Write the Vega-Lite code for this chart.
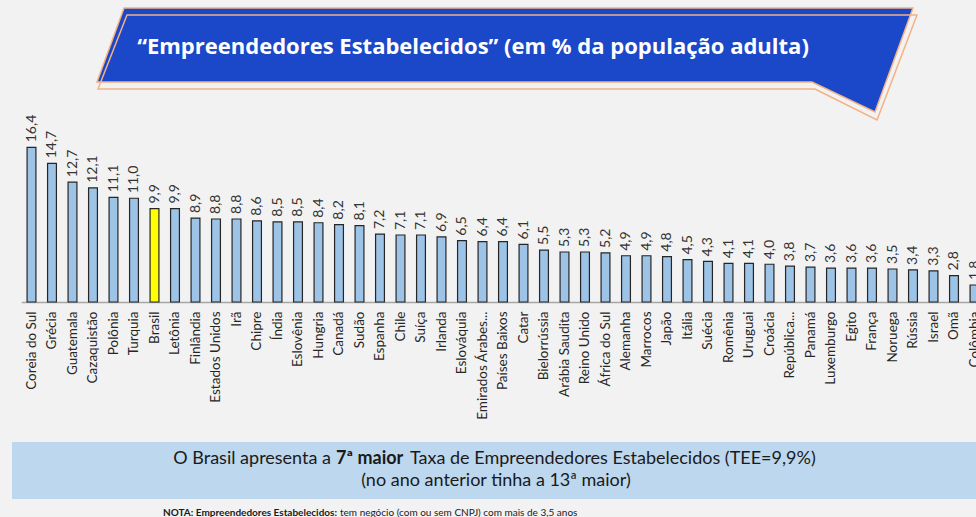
{
  "$schema": "https://vega.github.io/schema/vega-lite/v6.json",
  "background": "#f2f2f2",
  "padding": {"left": 12, "top": 5, "right": 0, "bottom": 0},
  "config": {
    "locale": {"number": {"decimal": ",", "thousands": ".", "grouping": [3], "currency": ["R$", ""]}},
    "view": {"stroke": null},
    "font": "Lato"
  },
  "spacing": 140,
  "center": true,
  "bounds": "flush",
  "vconcat": [
    {
      "width": {"step": 20.5},
      "height": 200,
      "data": {
        "values": [
          {"pais": "Coreia do Sul", "valor": 16.4},
          {"pais": "Grécia", "valor": 14.7},
          {"pais": "Guatemala", "valor": 12.7},
          {"pais": "Cazaquistão", "valor": 12.1},
          {"pais": "Polônia", "valor": 11.1},
          {"pais": "Turquia", "valor": 11.0},
          {"pais": "Brasil", "valor": 9.9},
          {"pais": "Letônia", "valor": 9.9},
          {"pais": "Finlândia", "valor": 8.9},
          {"pais": "Estados Unidos", "valor": 8.8},
          {"pais": "Irã", "valor": 8.8},
          {"pais": "Chipre", "valor": 8.6},
          {"pais": "Índia", "valor": 8.5},
          {"pais": "Eslovênia", "valor": 8.5},
          {"pais": "Hungria", "valor": 8.4},
          {"pais": "Canadá", "valor": 8.2},
          {"pais": "Sudão", "valor": 8.1},
          {"pais": "Espanha", "valor": 7.2},
          {"pais": "Chile", "valor": 7.1},
          {"pais": "Suíça", "valor": 7.1},
          {"pais": "Irlanda", "valor": 6.9},
          {"pais": "Eslováquia", "valor": 6.5},
          {"pais": "Emirados Árabes...", "valor": 6.4},
          {"pais": "Países Baixos", "valor": 6.4},
          {"pais": "Catar", "valor": 6.1},
          {"pais": "Bielorrússia", "valor": 5.5},
          {"pais": "Arábia Saudita", "valor": 5.3},
          {"pais": "Reino Unido", "valor": 5.3},
          {"pais": "África do Sul", "valor": 5.2},
          {"pais": "Alemanha", "valor": 4.9},
          {"pais": "Marrocos", "valor": 4.9},
          {"pais": "Japão", "valor": 4.8},
          {"pais": "Itália", "valor": 4.5},
          {"pais": "Suécia", "valor": 4.3},
          {"pais": "Romênia", "valor": 4.1},
          {"pais": "Uruguai", "valor": 4.1},
          {"pais": "Croácia", "valor": 4.0},
          {"pais": "República...", "valor": 3.8},
          {"pais": "Panamá", "valor": 3.7},
          {"pais": "Luxemburgo", "valor": 3.6},
          {"pais": "Egito", "valor": 3.6},
          {"pais": "França", "valor": 3.6},
          {"pais": "Noruega", "valor": 3.5},
          {"pais": "Rússia", "valor": 3.4},
          {"pais": "Israel", "valor": 3.3},
          {"pais": "Omã", "valor": 2.8},
          {"pais": "Colômbia", "valor": 1.8}
        ]
      },
      "encoding": {
        "x": {
          "field": "pais", "type": "nominal", "sort": null,
          "axis": {
            "title": null, "labelAngle": -90, "labelFontSize": 13.5, "labelColor": "#262626",
            "ticks": false, "domainColor": "#a6a6a6", "domainWidth": 1.5, "labelPadding": 9,
            "labelFont": "Lato", "labelLimit": 0, "labelOverlap": false, "labelBound": false
          }
        },
        "y": {
          "field": "valor", "type": "quantitative",
          "scale": {"domain": [0, 21.2], "nice": false, "zero": true},
          "axis": null
        }
      },
      "layer": [
        {
          "mark": {"type": "bar", "width": {"band": 0.48}, "stroke": "#262626", "strokeWidth": 1.2},
          "encoding": {
            "fill": {
              "condition": {"test": "datum.pais === 'Brasil'", "value": "#ffff00"},
              "value": "#9dc3e6"
            }
          }
        },
        {
          "mark": {"type": "text", "angle": 270, "align": "left", "baseline": "middle", "dx": 5, "fontSize": 14, "color": "#333333", "font": "Lato"},
          "encoding": {"text": {"field": "valor", "type": "quantitative", "format": ".1f"}}
        },
        {
          "data": {"values": [{"titulo": "“Empreendedores Estabelecidos” (em % da população adulta)"}]},
          "mark": {"type": "point", "shape": "M-379,-194L410,-194L372,-90L309,-120L-406,-120Z", "size": 4, "filled": true, "color": "#1b48c8", "stroke": "#f4b183", "strokeWidth": 1.5, "opacity": 1},
          "encoding": {"x": null, "y": null}
        },
        {
          "data": {"values": [{"titulo": "“Empreendedores Estabelecidos” (em % da população adulta)"}]},
          "mark": {"type": "point", "shape": "M-376,-187L414,-187L374,-82L312,-113L-405,-113Z", "size": 4, "filled": false, "color": "#f4b183", "strokeWidth": 1.5, "opacity": 1},
          "encoding": {"x": null, "y": null}
        },
        {
          "data": {"values": [{"titulo": "“Empreendedores Estabelecidos” (em % da população adulta)"}]},
          "mark": {"type": "text", "color": "#ffffff", "fontWeight": "bold", "fontSize": 22, "font": "Open Sans", "align": "center", "baseline": "middle", "dx": -30, "dy": -155},
          "encoding": {"x": null, "y": null, "text": {"field": "titulo", "type": "nominal"}}
        }
      ]
    },
    {
      "width": 982,
      "height": 57,
      "view": {"fill": "#bdd7ee", "stroke": null},
      "layer": [
        {
          "data": {"values": [{"texto": "O Brasil apresenta a"}]},
          "mark": {"type": "text", "align": "right", "baseline": "middle", "dx": -172, "dy": -11.5, "fontSize": 18, "color": "#1a1a1a", "font": "Lato"},
          "encoding": {"text": {"field": "texto", "type": "nominal"}}
        },
        {
          "data": {"values": [{"texto": "7ª maior"}]},
          "mark": {"type": "text", "align": "left", "baseline": "middle", "dx": -167, "dy": -11.5, "fontSize": 18, "fontWeight": "bold", "color": "#1a1a1a", "font": "Lato"},
          "encoding": {"text": {"field": "texto", "type": "nominal"}}
        },
        {
          "data": {"values": [{"texto": "Taxa de Empreendedores Estabelecidos (TEE=9,9%)"}]},
          "mark": {"type": "text", "align": "left", "baseline": "middle", "dx": -93, "dy": -11.5, "fontSize": 18, "color": "#1a1a1a", "font": "Lato"},
          "encoding": {"text": {"field": "texto", "type": "nominal"}}
        },
        {
          "data": {"values": [{"texto": "(no ano anterior tinha a 13ª maior)"}]},
          "mark": {"type": "text", "align": "center", "baseline": "middle", "dx": -7, "dy": 10.5, "fontSize": 18, "color": "#1a1a1a", "font": "Lato"},
          "encoding": {"text": {"field": "texto", "type": "nominal"}}
        },
        {
          "data": {"values": [{"texto": "NOTA: Empreendedores Estabelecidos:"}]},
          "mark": {"type": "text", "align": "left", "baseline": "middle", "dx": -340, "dy": 42.5, "fontSize": 10, "fontWeight": "bold", "color": "#1a1a1a", "font": "Lato"},
          "encoding": {"text": {"field": "texto", "type": "nominal"}}
        },
        {
          "data": {"values": [{"texto": "tem negócio (com ou sem CNPJ) com mais de 3,5 anos"}]},
          "mark": {"type": "text", "align": "left", "baseline": "middle", "dx": -163, "dy": 42.5, "fontSize": 10, "color": "#1a1a1a", "font": "Lato"},
          "encoding": {"text": {"field": "texto", "type": "nominal"}}
        }
      ]
    }
  ]
}
